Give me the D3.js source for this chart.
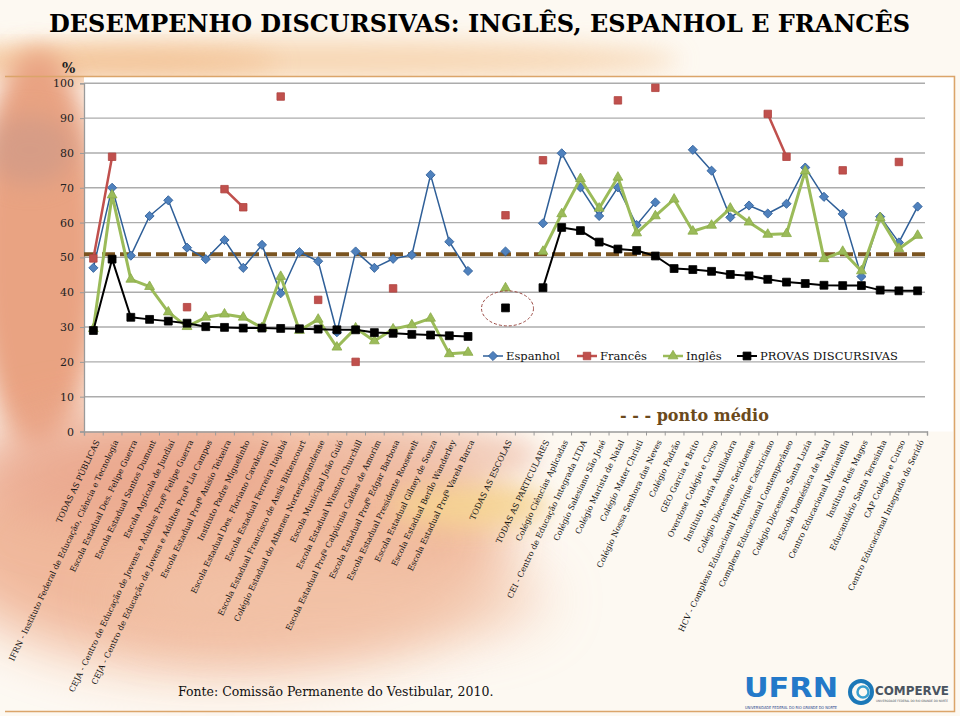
<!DOCTYPE html>
<html><head><meta charset="utf-8">
<script src="https://cdn.jsdelivr.net/npm/d3@7"></script>
<style>
html,body{margin:0;padding:0;background:#fdf9f2;}
svg{display:block;}
</style></head>
<body>
<svg id="chart" width="960" height="716"></svg>
<script>
const categories = [
"TODAS AS PÚBLICAS",
"IFRN - Instituto Federal de Educação, Ciência e Tecnologia",
"Escola Estadual Des. Felipe Guerra",
"Escola Estadual Santos Dumont",
"Escola Agrícola de Jundiaí",
"CEJA - Centro de Educação de Jovens e Adultos Profº Felipe Guerra",
"CEJA - Centro de Educação de Jovens e Adultos Profª Lia Campos",
"Escola Estadual Profº Anísio Teixeira",
"Instituto Padre Miguelinho",
"Escola Estadual Des. Floriano Cavalcanti",
"Escola Estadual Ferreira Itajubá",
"Escola Estadual Francisco de Assis Bittencourt",
"Colégio Estadual do Atheneu Norteriograndense",
"Escola Municipal João Guió",
"Escola Estadual Winston Churchill",
"Escola Estadual Profª Calpúrnia Caldas de Amorim",
"Escola Estadual Profº Edgar Barbosa",
"Escola Estadual Presidente Roosevelt",
"Escola Estadual Gilney de Souza",
"Escola Estadual Berilo Wanderley",
"Escola Estadual Profª Varela Barca",
"",
"TODAS AS ESCOLAS",
" ",
"TODAS AS PARTICULARES",
"Colégio Ciências Aplicadas",
"CEI - Centro de Educação Integrada LTDA",
"Colégio Salesiano São José",
"Colégio Marista de Natal",
"Colégio Mater Christi",
"Colégio Nossa Senhora das Neves",
"Colégio Padrão",
"GEO Garcia e Brito",
"Overdose Colégio e Curso",
"Instituto Maria Auxiliadora",
"Colégio Diocesano Seridoense",
"HCV - Complexo Educacional Henrique Castriciano",
"Complexo Educacional Contemporâneo",
"Colégio Diocesano Santa Luzia",
"Escola Doméstica de Natal",
"Centro Educacional Mariastella",
"Instituto Reis Magos",
"Educandário Santa Teresinha",
"CAP Colégio e Curso",
"Centro Educacional Integrado do Seridó"
];

const espanhol = [47.0,70.0,50.5,61.9,66.4,52.8,49.5,55.0,47.0,53.6,39.7,51.5,48.9,28.5,51.7,47.0,49.6,50.7,73.7,54.5,46.1,
  null,51.7,null,
  59.8,79.9,70.1,61.9,70.1,59.3,65.8,null,80.9,74.9,61.5,64.9,62.6,65.4,75.8,67.4,62.5,44.5,61.7,54.3,64.6];

const frances = [49.7,78.9,null,null,null,35.7,null,69.6,64.4,null,96.2,null,37.8,null,20.0,null,41.1,null,null,null,null,
  null,62.1,null,
  77.9,null,null,null,95.1,null,98.7,null,null,null,null,null,91.2,78.9,null,null,75.0,null,null,77.4,null];

const ingles = [29.5,67.9,43.7,41.6,34.3,30.1,32.8,33.7,32.8,29.8,44.5,29.0,32.2,24.2,29.7,26.0,29.4,30.6,32.5,22.3,22.7,
  null,41.2,null,
  51.7,62.5,72.6,64.1,73.0,57.0,61.9,66.7,57.5,59.2,64.1,60.1,56.6,56.8,74.8,49.6,51.7,46.1,61.4,52.5,56.3];

const provas = [29.0,49.5,32.8,32.2,31.7,31.1,30.1,29.9,29.7,29.7,29.6,29.5,29.4,29.2,29.2,28.4,28.2,27.9,27.7,27.5,27.3,
  null,35.5,null,
  41.3,58.6,57.7,54.4,52.4,52.0,50.4,46.8,46.5,46.0,45.1,44.7,43.7,42.9,42.5,42.0,41.9,41.9,40.6,40.4,40.4];

const pontoMedio = 50.9;
const yTicks = [0,10,20,30,40,50,60,70,80,90,100];
const seriesNames = ["Espanhol","Francês","Inglês","PROVAS DISCURSIVAS"];
const titleText = "DESEMPENHO DISCURSIVAS: INGLÊS, ESPANHOL E FRANCÊS";
const sourceText = "Fonte: Comissão Permanente do Vestibular, 2010.";
const highlightIndex = 22;

(function(){
const svg = d3.select("#chart");
const defs = svg.append("defs");
defs.append("filter").attr("id","blur").attr("x","-50%").attr("y","-50%").attr("width","200%").attr("height","200%")
  .append("feGaussianBlur").attr("stdDeviation",28);
defs.append("filter").attr("id","blur2").attr("x","-50%").attr("y","-50%").attr("width","200%").attr("height","200%")
  .append("feGaussianBlur").attr("stdDeviation",12);

// background
svg.append("rect").attr("width",960).attr("height",716).attr("fill","#fdf9f2");
const bg = svg.append("g");
const blobs = [
  {cx:300,cy:60,rx:380,ry:20,c:"#f6cfa5",f:"blur2",o:0.8},
  {cx:120,cy:62,rx:160,ry:14,c:"#f2bc8c",f:"blur2",o:0.7},
  {cx:38,cy:250,rx:62,ry:200,c:"#e9a382",f:"blur2",o:1},
  {cx:30,cy:150,rx:45,ry:35,c:"#c4968a",f:"blur2",o:0.5},
  {cx:220,cy:540,rx:290,ry:130,c:"#f0b698",f:"blur",o:0.95},
  {cx:130,cy:470,rx:160,ry:55,c:"#e8a38a",f:"blur",o:0.7},
  {cx:330,cy:600,rx:220,ry:45,c:"#f3c6ab",f:"blur",o:0.7},
  {cx:470,cy:505,rx:80,ry:24,c:"#f6d491",f:"blur2",o:0.85},
  {cx:420,cy:455,rx:120,ry:28,c:"#edb8a0",f:"blur2",o:0.6}
];
bg.selectAll("ellipse").data(blobs).join("ellipse")
  .attr("cx",d=>d.cx).attr("cy",d=>d.cy).attr("rx",d=>d.rx).attr("ry",d=>d.ry)
  .attr("fill",d=>d.c).attr("opacity",d=>d.o).attr("filter",d=>`url(#${d.f})`);

// plot area white
const pL = 84, pR = 927, pT = 83.3, pB = 431.5;
svg.append("rect").attr("x",pL).attr("y",77).attr("width",953-pL).attr("height",pB-77).attr("fill","#ffffff");

// frame
svg.append("path").attr("d","M5,76.5 H954.5 V711.5 H5").attr("fill","none").attr("stroke","#dba56a").attr("stroke-width",1.5);

// title
svg.append("text").attr("x",49).attr("y",32).attr("font-family","DejaVu Serif").attr("font-weight","bold")
  .attr("font-size",24).attr("textLength",861).attr("lengthAdjust","spacingAndGlyphs").attr("fill","#000").text(titleText);

svg.append("text").attr("x",62).attr("y",73).attr("font-family","DejaVu Serif").attr("font-weight","bold")
  .attr("font-size",14).attr("fill","#222").text("%");

const x = d3.scaleBand().domain(d3.range(categories.length)).range([pL,pR]).padding(0);
const xb = d3.scaleLinear().domain([0,categories.length]).range([pL,pR]);
const y = d3.scaleLinear().domain([0,100]).range([pB,pT]);
const cx = i => x(i) + x.bandwidth()/2;

// gridlines
svg.append("g").selectAll("line").data(yTicks.filter(t=>t>0)).join("line")
  .attr("x1",pL).attr("x2",925).attr("y1",d=>y(d)).attr("y2",d=>y(d))
  .attr("stroke","#acacac").attr("stroke-width",1.4);

// y axis
const yAxis = svg.append("g").attr("transform",`translate(${pL},0)`)
  .call(d3.axisLeft(y).tickValues(yTicks).tickSize(4).tickPadding(6));
yAxis.select(".domain").attr("stroke","#9a9a9a").attr("stroke-width",1.3);
yAxis.selectAll(".tick line").attr("stroke","#9a9a9a");
yAxis.selectAll("text").attr("font-family","DejaVu Serif").attr("font-size",11).attr("fill","#222");

// x axis ticks at boundaries
const xTickAxis = svg.append("g").attr("transform",`translate(0,${pB})`)
  .call(d3.axisBottom(xb).tickValues(d3.range(categories.length+1)).tickFormat("").tickSize(4));
xTickAxis.select(".domain").attr("stroke","#9a9a9a").attr("stroke-width",1.4);
xTickAxis.selectAll(".tick line").attr("stroke","#9a9a9a");

// x labels
const xAxis = svg.append("g").attr("transform",`translate(0,${pB})`)
  .call(d3.axisBottom(x).tickFormat(i=>categories[i]).tickSize(0));
xAxis.select(".domain").remove();
xAxis.selectAll("text").attr("font-family","DejaVu Serif").attr("font-size",8.1).attr("fill","#111")
  .attr("text-anchor","end").attr("x",0).attr("y",0).attr("dy","0.35em")
  .attr("transform","translate(4,9) rotate(-64.5)");

// ponto medio dashed line
svg.append("line").attr("x1",pL).attr("x2",925).attr("y1",y(pontoMedio)).attr("y2",y(pontoMedio))
  .attr("stroke","#7a5420").attr("stroke-width",4.2).attr("stroke-dasharray","13,5");

// series
const series = [
  {name:seriesNames[0], data:espanhol, line:"#2f5f98", lw:1.5, marker:"diamond", fill:"#4f81bd", stroke:"#2f5f98", size:42},
  {name:seriesNames[1], data:frances, line:"#c0504d", lw:2.5, marker:"square", fill:"#c0504d", stroke:"#b04440", size:56},
  {name:seriesNames[2], data:ingles, line:"#9bbb59", lw:3, marker:"triangle", fill:"#9bbb59", stroke:"#8aab48", size:42},
  {name:seriesNames[3], data:provas, line:"#000000", lw:2, marker:"square", fill:"#000000", stroke:"#000", size:62}
];
const symType = {diamond:d3.symbolSquare, square:d3.symbolSquare, triangle:d3.symbolTriangle};
const symRot = {diamond:45, square:0, triangle:0};

const lineGen = d3.line().defined(d=>d.v!=null).x(d=>cx(d.i)).y(d=>y(d.v));
series.forEach(s=>{
  const pts = s.data.map((v,i)=>({i,v}));
  const g = svg.append("g");
  g.append("path").datum(pts).attr("d",lineGen).attr("fill","none")
    .attr("stroke",s.line).attr("stroke-width",s.lw).attr("stroke-linejoin","round");
  g.selectAll("path.m").data(pts.filter(d=>d.v!=null)).join("path").attr("class","m")
    .attr("d",d3.symbol().type(symType[s.marker]).size(s.size))
    .attr("transform",d=>`translate(${cx(d.i)},${y(d.v)}) rotate(${symRot[s.marker]})`)
    .attr("fill",s.fill).attr("stroke",s.stroke).attr("stroke-width",0.8);
});

// highlight ellipse
svg.append("ellipse").attr("cx",cx(highlightIndex)+2).attr("cy",y(provas[highlightIndex])+0.5)
  .attr("rx",26).attr("ry",17.5).attr("fill","none").attr("stroke","#9b4a44")
  .attr("stroke-width",1).attr("stroke-dasharray","3,2");

// legend
const legendX = [483, 577, 663, 737];
const lg = svg.append("g").attr("transform","translate(0,356)");
series.forEach((s,k)=>{
  const g = lg.append("g").attr("transform",`translate(${legendX[k]},0)`);
  g.append("line").attr("x1",0).attr("x2",20).attr("y1",0).attr("y2",0).attr("stroke",s.line).attr("stroke-width",Math.min(s.lw,2.5));
  g.append("path").attr("d",d3.symbol().type(symType[s.marker]).size(s.size)())
    .attr("transform",`translate(10,0) rotate(${symRot[s.marker]})`).attr("fill",s.fill).attr("stroke",s.stroke).attr("stroke-width",0.8);
  g.append("text").attr("x",23).attr("y",0).attr("dy","0.35em").attr("font-family","DejaVu Serif")
    .attr("font-size",11.5).attr("fill","#111").text(s.name);
});

// ponto medio label
svg.append("text").attr("x",620).attr("y",421).attr("font-family","DejaVu Serif").attr("font-weight","bold")
  .attr("font-size",16).attr("fill","#6b4a1c").attr("xml:space","preserve").text("- - - ponto médio");

// source
svg.append("text").attr("x",178).attr("y",696).attr("font-family","DejaVu Serif")
  .attr("font-size",12.5).attr("fill","#111").text(sourceText);

// logos (text approximations)
const logo = svg.append("g");
logo.append("text").attr("x",744).attr("y",697).attr("font-family","DejaVu Sans").attr("font-weight","bold")
  .attr("font-size",27).attr("textLength",94).attr("lengthAdjust","spacingAndGlyphs").attr("fill","#2379c9").text("UFRN");
logo.append("text").attr("x",745).attr("y",709).attr("font-family","DejaVu Sans").attr("font-size",4)
  .attr("fill","#1d3f8a").attr("textLength",92).attr("lengthAdjust","spacingAndGlyphs").text("UNIVERSIDADE FEDERAL DO RIO GRANDE DO NORTE");
logo.append("circle").attr("cx",861).attr("cy",692).attr("r",11).attr("fill","none").attr("stroke","#1b78b8").attr("stroke-width",4);
logo.append("circle").attr("cx",863).attr("cy",692).attr("r",5.5).attr("fill","none").attr("stroke","#3aa0d0").attr("stroke-width",2.5);
logo.append("text").attr("x",875).attr("y",695).attr("font-family","DejaVu Sans").attr("font-weight","bold")
  .attr("font-size",12).attr("textLength",74).attr("lengthAdjust","spacingAndGlyphs").attr("fill","#4a5460").text("COMPERVE");
logo.append("text").attr("x",876).attr("y",702).attr("font-family","DejaVu Sans").attr("font-size",3)
  .attr("fill","#4a5460").attr("textLength",72).attr("lengthAdjust","spacingAndGlyphs").text("UNIVERSIDADE FEDERAL DO RIO GRANDE DO NORTE");
})();
</script>
</body></html>
